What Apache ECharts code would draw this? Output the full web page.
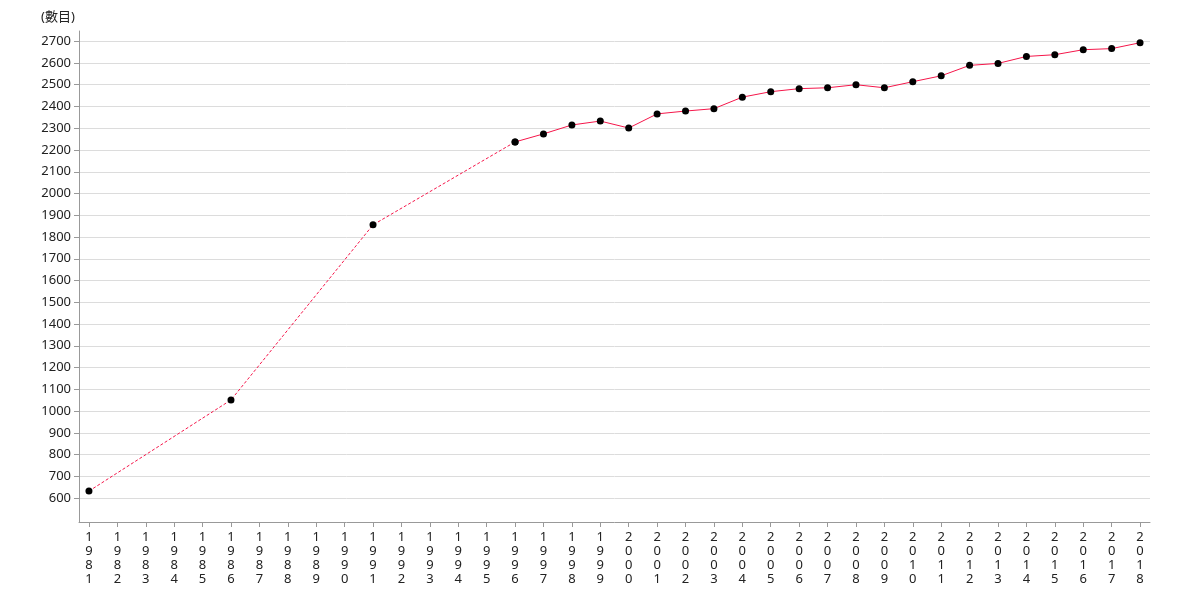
<!DOCTYPE html>
<html>
<head>
<meta charset="utf-8">
<script src="https://cdn.jsdelivr.net/npm/echarts@6/dist/echarts.min.js"></script>
<style>
  html, body { margin: 0; padding: 0; background: #fff; }
  #myChart { width: 1180px; height: 600px; }
</style>
</head>
<body>
<div id="myChart"></div>
<script>
// 年份与数值
var years = [1981, 1986, 1991, 1996, 1997, 1998, 1999, 2000, 2001, 2002, 2003, 2004, 2005, 2006,
  2007, 2008, 2009, 2010, 2011, 2012, 2013, 2014, 2015, 2016, 2017, 2018]
var values = [632, 1051, 1856, 2237, 2274, 2315, 2333, 2301, 2366, 2379, 2390, 2443, 2468, 2482,
  2486, 2500, 2486, 2514, 2541, 2589, 2598, 2630, 2638, 2661, 2666, 2693]
// x轴刻度 1981-2018
var xTicks = []
for (var y = 1981; y <= 2018; y++) xTicks.push(y)
var yTicks = [600, 700, 800, 900, 1000, 1100, 1200, 1300, 1400, 1500, 1600, 1700, 1800, 1900,
  2000, 2100, 2200, 2300, 2400, 2500, 2600, 2700]
// 前几个点之间有缺年，用虚线
var gapEnd = 3

var pairs = years.map(function(yr, i) { return [yr, values[i]] })

const myChart = echarts.init(document.getElementById('myChart'))
var lineColor = '#f5164a'
var option = {
  animation: false,
  textStyle: { fontFamily: 'Noto Sans, Noto Sans CJK TC, sans-serif' },
  title: {
    text: '(數目)',
    left: 36,
    top: 6,
    textStyle: { fontSize: 13, fontWeight: 'normal', color: '#222' }
  },
  grid: { left: 79, right: 30, top: 31, bottom: 78 },
  xAxis: {
    type: 'value',
    min: 1980.65,
    max: 2018.35,
    axisLine: { show: true, lineStyle: { color: '#999' } },
    axisTick: { show: true, length: 5, customValues: xTicks, lineStyle: { color: '#999' } },
    axisLabel: {
      customValues: xTicks,
      color: '#222',
      fontSize: 13,
      lineHeight: 14,
      margin: 8,
      formatter: function(v) { return String(v).split('').join('\n') }
    },
    splitLine: { show: false }
  },
  yAxis: {
    type: 'value',
    min: 490,
    max: 2747,
    axisLine: { show: true, lineStyle: { color: '#999' } },
    axisTick: { show: true, length: 5, customValues: yTicks, lineStyle: { color: '#999' } },
    axisLabel: {
      customValues: yTicks,
      color: '#222',
      fontSize: 13,
      formatter: function(v) { return String(v) }
    },
    splitLine: { show: true, lineStyle: { color: '#dcdcdc' } }
  },
  series: [
    {
      type: 'line',
      data: pairs.slice(0, gapEnd + 1),
      symbol: 'circle',
      symbolSize: 7,
      itemStyle: { color: '#000' },
      lineStyle: { color: lineColor, width: 1, type: [3, 2] }
    },
    {
      type: 'line',
      data: pairs.slice(gapEnd),
      symbol: 'circle',
      symbolSize: 7,
      itemStyle: { color: '#000' },
      lineStyle: { color: lineColor, width: 1 }
    }
  ]
}
myChart.setOption(option)
</script>
</body>
</html>
